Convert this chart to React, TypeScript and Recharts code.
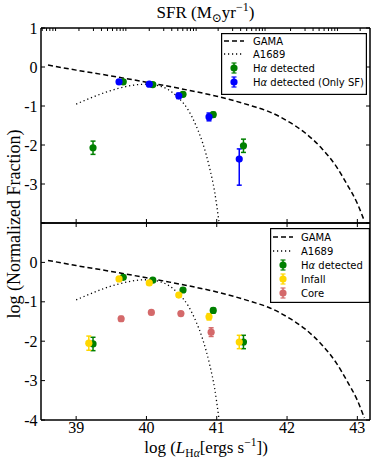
import React from 'react';
import { ComposedChart, Line, Scatter, ErrorBar, XAxis, YAxis, Legend } from 'recharts';

// ---------- data ----------
const xDomain: [number, number] = [38.5, 43.18];
const yDomain: [number, number] = [-4, 1];
const xMajorTicks = [39, 40, 41, 42, 43];
const xTickLabels = ['39', '40', '41', '42', '43'];
const yTickValues = [1, 0, -1, -2, -3, -4];
const topYTickLabels = ['1', '0', '-1', '-2', '-3', ''];
const bottomYTickLabels = ['', '0', '-1', '-2', '-3', '-4'];
const sfrDecadeStarts = [38.04, 39.04, 40.04, 41.02, 42.05, 43.04];
const sfrMinorOffsets = [0, 0.206, 0.32, 0.406, 0.477, 0.539, 0.586, 0.629, 0.667];

const gamaX = [38.6, 39.0, 39.5, 40.0, 40.5, 41.0, 41.5, 41.75, 42.0, 42.25, 42.5, 42.7, 42.85, 43.0, 43.1];
const gamaY = [0.05, -0.08, -0.23, -0.39, -0.56, -0.75, -1.0, -1.15, -1.38, -1.68, -2.1, -2.55, -3.0, -3.5, -3.95];

const a1689X = [39.0, 39.2, 39.4, 39.6, 39.8, 40.0, 40.15, 40.3, 40.45, 40.6, 40.7, 40.8, 40.9, 40.97, 41.03];
const a1689Y = [-0.95, -0.8, -0.66, -0.55, -0.47, -0.44, -0.47, -0.57, -0.78, -1.12, -1.48, -1.95, -2.6, -3.2, -3.95];

const haX = [39.24, 39.67, 40.09, 40.52, 40.95, 41.38];
const haY = [-2.07, -0.38, -0.45, -0.7, -1.22, -2.02];
const haErr = [[0.17, 0.17], [0.05, 0.05], [0.04, 0.04], [0.05, 0.05], [0.06, 0.06], [0.17, 0.17]];

const sfX = [39.61, 40.04, 40.46, 40.89, 41.32];
const sfY = [-0.38, -0.44, -0.74, -1.28, -2.36];
const sfErr = [[0.05, 0.05], [0.04, 0.04], [0.07, 0.07], [0.1, 0.1], [0.67, 0.26]];

const infallX = [39.18, 39.61, 40.04, 40.46, 40.89, 41.32];
const infallY = [-2.05, -0.42, -0.52, -0.83, -1.38, -2.02];
const infallErr = [[0.18, 0.18], [0.04, 0.04], [0.04, 0.04], [0.05, 0.05], [0.08, 0.08], [0.17, 0.17]];

const coreX = [39.64, 40.07, 40.49, 40.92];
const coreY = [-1.43, -1.27, -1.3, -1.77];
const coreErr = [[0.06, 0.06], [0.05, 0.05], [0.05, 0.05], [0.11, 0.11]];

// ---------- helpers ----------
const zipLine = (xs: number[], ys: number[]) => xs.map((x, i) => ({ x, y: ys[i] }));
const zipPts = (xs: number[], ys: number[], es: number[][]) => xs.map((x, i) => ({ x, y: ys[i], err: es[i] }));

const gamaData = zipLine(gamaX, gamaY);
const a1689Data = zipLine(a1689X, a1689Y);
const haData = zipPts(haX, haY, haErr);
const sfData = zipPts(sfX, sfY, sfErr);
const infallData = zipPts(infallX, infallY, infallErr);
const coreData = zipPts(coreX, coreY, coreErr);

const sfrTicks: number[] = [];
sfrDecadeStarts.forEach((d) =>
  sfrMinorOffsets.forEach((o) => {
    const v = +(d + o).toFixed(3);
    if (v > xDomain[0] && v < xDomain[1]) sfrTicks.push(v);
  })
);

const GREEN = '#008000';
const BLUE = '#0000ff';
const GOLD = '#ffd700';
const CORE = '#d4696a';
const SERIF = '"Liberation Serif", "Times New Roman", "DejaVu Serif", serif';
const SANS = '"DejaVu Sans", Verdana, sans-serif';

const labelMap = (vals: number[], labs: string[]) => {
  const m: Record<string, string> = {};
  vals.forEach((v, i) => (m[String(v)] = labs[i]));
  return m;
};

const makeXTick = (dir: number, len: number, labels?: Record<string, string>) => (props: any) => {
  const { x, y, payload } = props;
  const lab = labels ? labels[String(payload.value)] : '';
  return (
    <g>
      <line x1={x} x2={x} y1={y} y2={y + dir * len} stroke="#000" strokeWidth={1} />
      {lab ? (
        <text x={x} y={y + 13} textAnchor="middle" fontFamily={SERIF} fontSize={16} fill="#000">
          {lab}
        </text>
      ) : null}
    </g>
  );
};

const makeYTick = (dir: number, len: number, labels?: Record<string, string>) => (props: any) => {
  const { x, y, payload } = props;
  const lab = labels ? labels[String(payload.value)] : '';
  return (
    <g>
      <line x1={x} x2={x + dir * len} y1={y} y2={y} stroke="#000" strokeWidth={1} />
      {lab ? (
        <text x={x - 3.5} y={y + 5.5} textAnchor="end" fontFamily={SERIF} fontSize={16} fill="#000">
          {lab}
        </text>
      ) : null}
    </g>
  );
};

const dot = (color: string) => (props: any) => {
  const { cx, cy } = props;
  return <circle cx={cx} cy={cy} r={3.6} fill={color} />;
};

type LegendItem = { label: React.ReactNode; kind: 'dash' | 'dot' | 'marker'; color?: string };

const Ha = () => (
  <>
    H<tspan fontStyle="italic">α</tspan>
  </>
);

const topLegendItems: LegendItem[] = [
  { label: 'GAMA', kind: 'dash' },
  { label: 'A1689', kind: 'dot' },
  { label: <><Ha /> detected</>, kind: 'marker', color: GREEN },
  { label: <><Ha /> detected (Only SF)</>, kind: 'marker', color: BLUE },
];
const bottomLegendItems: LegendItem[] = [
  { label: 'GAMA', kind: 'dash' },
  { label: 'A1689', kind: 'dot' },
  { label: <><Ha /> detected</>, kind: 'marker', color: GREEN },
  { label: 'Infall', kind: 'marker', color: GOLD },
  { label: 'Core', kind: 'marker', color: CORE },
];

const LegendBox = ({
  items, width, height, rowY, sampleX, textX,
}: { items: LegendItem[]; width: number; height: number; rowY: number[]; sampleX: number; textX: number }) => (
  <svg width={width} height={height} style={{ display: 'block' }}>
    <rect x={0.6} y={0.6} width={width - 1.2} height={height - 1.2} fill="#fff" stroke="#000" strokeWidth={1.2} />
    {items.map((it, i) => {
      const cy = rowY[i];
      const mid = sampleX + 10;
      return (
        <g key={i}>
          {it.kind === 'dash' && (
            <line x1={sampleX} x2={sampleX + 20} y1={cy} y2={cy} stroke="#000" strokeWidth={1.5} strokeDasharray="5 3" />
          )}
          {it.kind === 'dot' && (
            <line x1={sampleX} x2={sampleX + 20} y1={cy} y2={cy} stroke="#000" strokeWidth={1.3} strokeDasharray="1.2 2.8" />
          )}
          {it.kind === 'marker' && (
            <g>
              <line x1={mid} x2={mid} y1={cy - 5} y2={cy + 5} stroke={it.color} strokeWidth={1.5} />
              <line x1={mid - 2.5} x2={mid + 2.5} y1={cy - 5} y2={cy - 5} stroke={it.color} strokeWidth={1.2} />
              <line x1={mid - 2.5} x2={mid + 2.5} y1={cy + 5} y2={cy + 5} stroke={it.color} strokeWidth={1.2} />
              <circle cx={mid} cy={cy} r={3.6} fill={it.color} />
            </g>
          )}
          <text x={textX} y={cy + 3.6} fontFamily={SANS} fontSize={10} fill="#000">
            {it.label}
          </text>
        </g>
      );
    })}
  </svg>
);

const axisLine = { stroke: '#000', strokeWidth: 1.5 };

const commonAxes = (opts: {
  bottomTick: any; topTick: any; topTicks: number[]; leftTick: any; rightTick: any;
}) => [
  <XAxis key="xb" xAxisId={0} type="number" dataKey="x" domain={xDomain} allowDataOverflow ticks={xMajorTicks}
    interval={0} height={1} tickSize={0} tickMargin={0} tickLine={false} axisLine={axisLine} tick={opts.bottomTick} />,
  <XAxis key="xt" xAxisId="t" orientation="top" type="number" dataKey="x" domain={xDomain} allowDataOverflow
    ticks={opts.topTicks} interval={0} height={1} tickSize={0} tickMargin={0} tickLine={false} axisLine={axisLine}
    tick={opts.topTick} />,
  <YAxis key="yl" yAxisId={0} type="number" dataKey="y" domain={yDomain} allowDataOverflow ticks={yTickValues}
    interval={0} width={1} tickSize={0} tickMargin={0} tickLine={false} axisLine={axisLine} tick={opts.leftTick} />,
  <YAxis key="yr" yAxisId="r" orientation="right" type="number" dataKey="y" domain={yDomain} allowDataOverflow
    ticks={yTickValues} interval={0} width={1} tickSize={0} tickMargin={0} tickLine={false} axisLine={axisLine}
    tick={opts.rightTick} />,
];

const pointSeries = (name: string, data: any[], color: string) => (
  <Scatter key={name} name={name} data={data} dataKey="y" xAxisId={0} yAxisId={0} fill={color}
    shape={dot(color)} isAnimationActive={false}>
    <ErrorBar dataKey="err" direction="y" width={2.5} stroke={color} strokeWidth={1.5} />
  </Scatter>
);

const curveSeries = () => [
  <Line key="gama" data={gamaData} dataKey="y" xAxisId={0} yAxisId={0} type="monotone" stroke="#000"
    strokeWidth={1.5} strokeDasharray="5 3" dot={false} activeDot={false} isAnimationActive={false} />,
  <Line key="a1689" data={a1689Data} dataKey="y" xAxisId={0} yAxisId={0} type="monotone" stroke="#000"
    strokeWidth={1.3} strokeDasharray="1.2 2.8" dot={false} activeDot={false} isAnimationActive={false} />,
];

const xLabs = labelMap(xMajorTicks, xTickLabels);
const topYLabs = labelMap(yTickValues, topYTickLabels);
const botYLabs = labelMap(yTickValues, bottomYTickLabels);

export default function App() {
  return (
    <div style={{ position: 'absolute', left: 0, top: 0, width: 374, height: 467, background: '#fff' }}>
      <div style={{ position: 'absolute', left: 0, top: 0 }}>
        <ComposedChart width={374} height={467} margin={{ top: 27, bottom: 243, left: 40, right: 3 }}>
          {commonAxes({
            bottomTick: makeXTick(-1, 4),
            topTick: makeXTick(1, 3),
            topTicks: sfrTicks,
            leftTick: makeYTick(1, 4, topYLabs),
            rightTick: makeYTick(-1, 4),
          })}
          {curveSeries()}
          {pointSeries('ha', haData, GREEN)}
          {pointSeries('sf', sfData, BLUE)}
          <Legend verticalAlign="middle" align="center" layout="horizontal"
            wrapperStyle={{ position: 'absolute', left: 221, top: 33, width: 146, height: 62 }}
            content={() => (
              <LegendBox items={topLegendItems} width={146} height={62} rowY={[8, 21, 35, 49]} sampleX={3} textX={32} />
            )} />
        </ComposedChart>
      </div>
      <div style={{ position: 'absolute', left: 0, top: 0 }}>
        <ComposedChart width={374} height={467} margin={{ top: 222, bottom: 46, left: 40, right: 3 }}>
          {commonAxes({
            bottomTick: makeXTick(-1, 4, xLabs),
            topTick: makeXTick(1, 4),
            topTicks: xMajorTicks,
            leftTick: makeYTick(1, 4, botYLabs),
            rightTick: makeYTick(-1, 4),
          })}
          {curveSeries()}
          {pointSeries('ha', haData, GREEN)}
          {pointSeries('infall', infallData, GOLD)}
          {pointSeries('core', coreData, CORE)}
          <Legend verticalAlign="middle" align="center" layout="horizontal"
            wrapperStyle={{ position: 'absolute', left: 270, top: 228, width: 100, height: 75 }}
            content={() => (
              <LegendBox items={bottomLegendItems} width={100} height={75} rowY={[9, 23, 37, 51, 65]} sampleX={3} textX={31} />
            )} />
        </ComposedChart>
      </div>
      <svg width={374} height={467} style={{ position: 'absolute', left: 0, top: 0, pointerEvents: 'none' }}>
        <text x={205.5} y={18} textAnchor="middle" fontFamily={SERIF} fontSize={17} fill="#000">
          SFR (M<tspan fontSize={12} dy={4}>⊙</tspan>
          <tspan dy={-4}>yr</tspan>
          <tspan fontSize={12} dy={-7}>−1</tspan>
          <tspan dy={7}>)</tspan>
        </text>
        <text x={206} y={453} textAnchor="middle" fontFamily={SERIF} fontSize={17} fill="#000">
          log (<tspan fontStyle="italic">L</tspan>
          <tspan fontSize={11.5} dy={4}>H<tspan fontStyle="italic">α</tspan></tspan>
          <tspan dy={-4}>[ergs s</tspan>
          <tspan fontSize={11.5} dy={-7}>−1</tspan>
          <tspan dy={7}>])</tspan>
        </text>
        <text x={20} y={224} transform="rotate(-90, 20, 224)" textAnchor="middle" fontFamily={SERIF} fontSize={18} fill="#000">
          log (Normalized Fraction)
        </text>
      </svg>
    </div>
  );
}
